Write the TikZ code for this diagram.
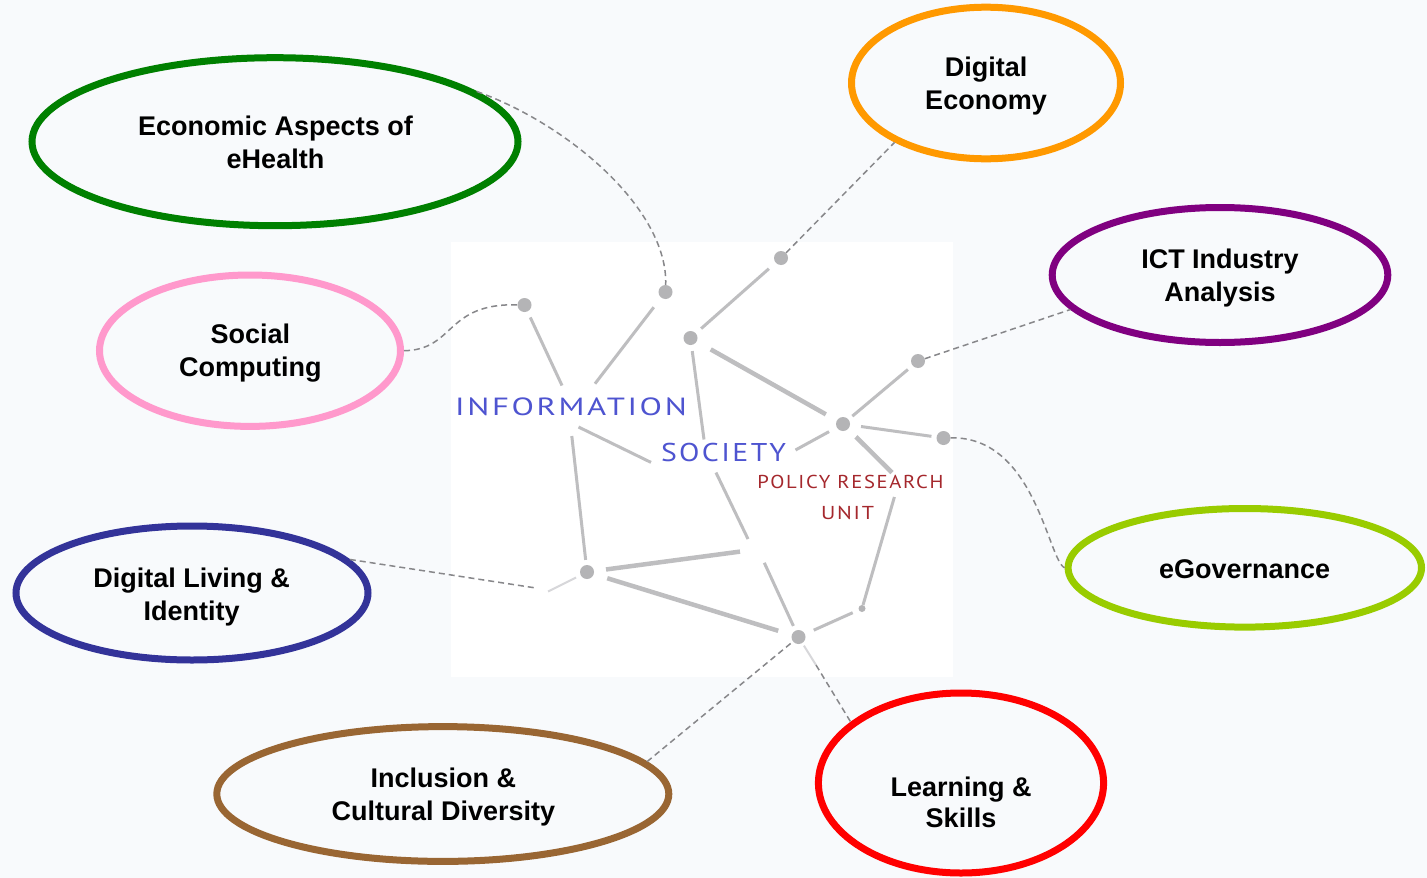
\documentclass[tikz,border=0pt]{standalone}
\usepackage{fontspec}
\usepackage{graphicx}
\setmainfont{Liberation Sans}
\newfontfamily\logofont[LetterSpace=8]{PT Sans}
\usetikzlibrary{shapes.geometric}
\definecolor{bgc}{RGB}{248,250,252}
\definecolor{segc}{RGB}{190,190,192}
\definecolor{segfaint}{RGB}{215,215,218}
\definecolor{dotc}{RGB}{180,180,182}
\definecolor{dashc}{RGB}{135,135,138}
\definecolor{infoblue}{RGB}{78,84,208}
\definecolor{prured}{RGB}{165,40,45}
\definecolor{cgreen}{RGB}{0,128,0}
\definecolor{corange}{RGB}{255,153,0}
\definecolor{cpurple}{RGB}{128,0,128}
\definecolor{cpink}{RGB}{255,153,204}
\definecolor{cygreen}{RGB}{153,204,0}
\definecolor{cblue}{RGB}{51,51,153}
\definecolor{cbrown}{RGB}{153,102,51}
\definecolor{cred}{RGB}{255,0,0}
\tikzset{
  topic/.style={ellipse, draw=#1, line width=7pt, inner sep=0pt},
  lbl/.style={inner sep=0pt, align=center, text=black, font=\fontsize{27}{33}\selectfont\bfseries},
  dot/.style={circle, fill=dotc, inner sep=0pt, minimum size=14pt},
  seg/.style={draw=segc, line width=3pt},
  thickseg/.style={draw=segc, line width=4.5pt},
  faintseg/.style={draw=segfaint, line width=2pt},
  conn/.style={draw=dashc, line width=1.5pt, dash pattern=on 6pt off 4pt},
  logo/.style={inner sep=0pt, font=\logofont}
}
\begin{document}
\begin{tikzpicture}[x=1pt,y=-1pt]
\useasboundingbox (0,0) rectangle (1427,878);
\fill[bgc] (0,0) rectangle (1427,878);
\fill[white] (451,242) rectangle (953,677);

% topic ellipses
\node[topic=cgreen,  minimum width=486pt,   minimum height=168pt]   (eh)  at (275,141.7) {};
\node[topic=cpink,   minimum width=301pt,   minimum height=151.4pt] (sc)  at (250,350.7) {};
\node[topic=corange, minimum width=269pt,   minimum height=151.6pt] (de)  at (986,83) {};
\node[topic=cpurple, minimum width=335.6pt, minimum height=135pt]   (ict) at (1220,275) {};
\node[topic=cygreen, minimum width=353.4pt, minimum height=118.6pt] (eg)  at (1244.8,567.8) {};
\node[topic=cblue,   minimum width=352pt,   minimum height=134pt]   (dl)  at (192,593) {};
\node[topic=cbrown,  minimum width=452pt,   minimum height=134.8pt] (ic)  at (442.8,794) {};
\node[topic=cred,    minimum width=285.2pt, minimum height=180pt]   (ls)  at (961,783) {};

% logo dots
\node[dot] (d1) at (524.5,305) {};
\node[dot] (d2) at (665.5,292) {};
\node[dot] (d3) at (781,258) {};
\node[dot] (d4) at (690.5,338) {};
\node[dot] (d5) at (918,361) {};
\node[dot] (d6) at (843,424) {};
\node[dot] (d7) at (943.5,438) {};
\node[dot] (d8) at (587,572) {};
\node[dot] (d9) at (798.5,637) {};
\node[dot, minimum size=7pt] (d10) at (862,608.5) {};

% free ends of logo segments
\coordinate (c1) at (562,385.5);
\coordinate (c2) at (595,383.7);
\coordinate (c4) at (704,439.5);
\coordinate (c8) at (795.5,450);
\coordinate (c9) at (892,472.6);
\coordinate (c10) at (894.4,497);
\coordinate (c12) at (571.8,436);
\coordinate (c13a) at (578.5,427);
\coordinate (c13b) at (651,462.4);
\coordinate (c14a) at (716,472.6);
\coordinate (c14b) at (748,539);
\coordinate (c15) at (764.3,562.8);
\coordinate (c16) at (740,551.6);
\coordinate (c18) at (548,591.5);
\coordinate (c19) at (816,665);
\coordinate (cdl) at (536,588);

% logo segments
\draw[seg, shorten <=6.5pt] (d1) -- (c1);
\draw[seg, shorten <=12pt] (d2) -- (c2);
\draw[seg, shorten <=9pt, shorten >=7pt] (d3) -- (d4);
\draw[seg, shorten <=6pt] (d4) -- (c4);
\draw[thickseg, shorten <=16pt, shorten >=12.5pt] (d4) -- (d6);
\draw[seg, shorten <=5pt, shorten >=6pt] (d6) -- (d5);
\draw[seg, shorten <=11pt, shorten >=5pt] (d6) -- (d7);
\draw[seg, shorten <=8.7pt] (d6) -- (c8);
\draw[thickseg, shorten <=11pt] (d6) -- (c9);
\draw[seg] (c10) -- (d10);
\draw[seg, shorten <=6.5pt, shorten >=9.5pt] (d10) -- (d9);
\draw[seg, shorten >=5pt] (c12) -- (d8);
\draw[seg] (c13a) -- (c13b);
\draw[seg] (c14a) -- (c14b);
\draw[seg, shorten >=5pt] (c15) -- (d9);
\draw[thickseg, shorten <=12pt] (d8) -- (c16);
\draw[thickseg, shorten <=14pt, shorten >=14pt] (d8) -- (d9);
\draw[faintseg, shorten >=5pt] (c18) -- (d8);
\draw[faintseg, shorten <=3pt] (d9) -- (c19);

% dashed connectors
\draw[conn] (eh.14) .. controls (570,125) and (668,210) .. (d2);
\draw[conn] (sc.east) .. controls (455,350) and (445,303) .. (d1);
\draw[conn] (d3) -- (de.213);
\draw[conn] (d5) -- (ict.193);
\draw[conn] (d7) .. controls (1035,436) and (1048,560) .. (eg.west);
\draw[conn] (dl.12) -- (cdl);
\draw[conn] (ic.9) -- (d9);
\draw[conn] (c19) -- (ls.151);

% logo text
\node[logo, text=infoblue] (info) at (571,407.2) {\resizebox{231.6pt}{17.7pt}{INFORMATION}};
\node[logo, text=infoblue] (soc) at (723.5,452.5) {\resizebox{125pt}{18.3pt}{SOCIETY}};
\node[logo, text=prured] (pru) at (850.5,482.3) {\resizebox{186pt}{13.3pt}{POLICY RESEARCH}};
\node[logo, text=prured] (unit) at (847.5,512.7) {\resizebox{53pt}{13.3pt}{UNIT}};

% topic labels
\node[lbl] (eht) at (275.5,142.8) {Economic Aspects of\\eHealth};
\node[lbl] (sct) at (250.4,353.3) {Social\\Computing};
\node[lbl] (det) at (986,86) {Digital\\Economy};
\node[lbl] (ictt) at (1220,278.3) {ICT Industry\\Analysis};
\node[lbl] (egt) at (1244.6,568.7) {eGovernance};
\node[lbl] (dlt) at (191.6,596.6) {Digital Living \&\\Identity};
\node[lbl] (ict2) at (443.4,796.8) {Inclusion \&\\Cultural Diversity};
\node[lbl, font=\fontsize{27}{31}\selectfont\bfseries] (lst) at (961,802.8) {Learning \&\\Skills};
\end{tikzpicture}
\end{document}
